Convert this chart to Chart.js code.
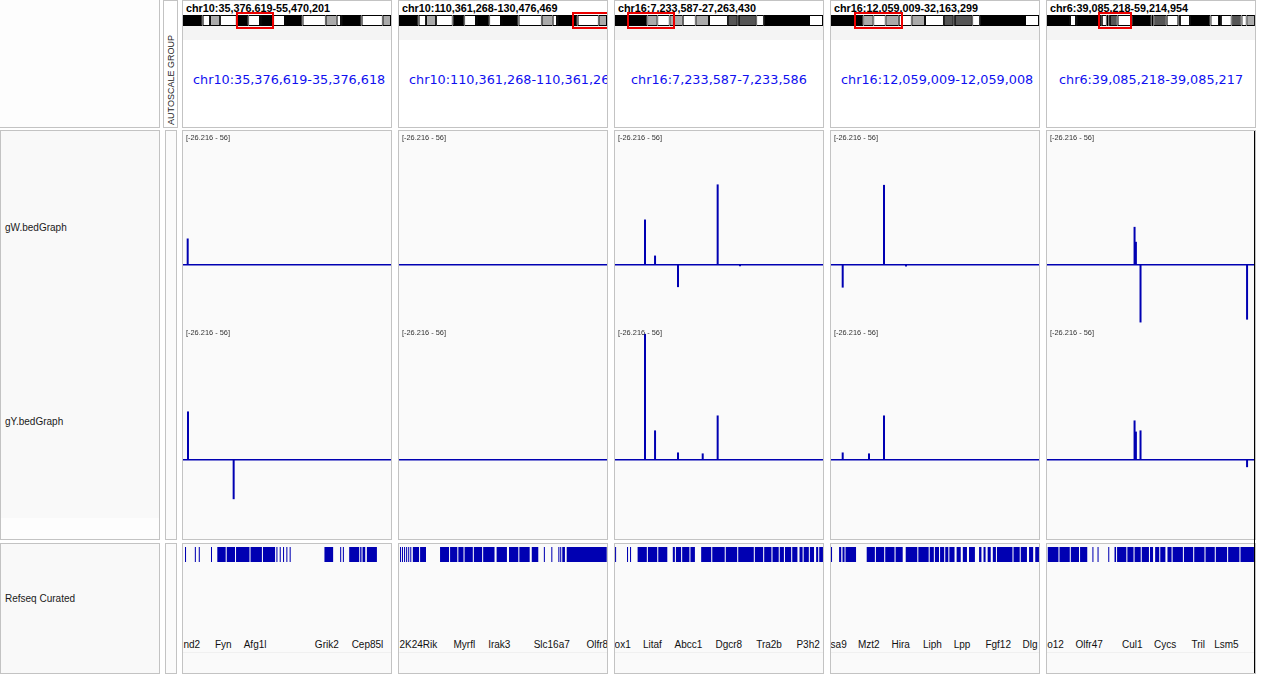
<!DOCTYPE html>
<html><head><meta charset="utf-8">
<script src="https://cdn.jsdelivr.net/npm/chart.js@4.4.1/dist/chart.umd.min.js"></script>
<style>
html,body{margin:0;padding:0;background:#fff;}
#root{position:relative;width:1274px;height:674px;overflow:hidden;font-family:"Liberation Sans",Arial,sans-serif;}
</style></head><body><div id="root"></div>
<script>
// ---------------- DATA ----------------
const panelTitles = ['chr10:35,376,619-55,470,201','chr10:110,361,268-130,476,469','chr16:7,233,587-27,263,430','chr16:12,059,009-32,163,299','chr6:39,085,218-59,214,954'];
const panelLocusLabels = ['chr10:35,376,619-35,376,618','chr10:110,361,268-110,361,267','chr16:7,233,587-7,233,586','chr16:12,059,009-12,059,008','chr6:39,085,218-39,085,217'];
const panelChrom = ['chr10','chr10','chr16','chr16','chr6'];
const panelStart = [35.376619, 110.361268, 7.233587, 12.059009, 39.085218]; // Mb
const panelEnd = [55.470201, 130.476469, 27.263430, 32.163299, 59.214954];   // Mb
const trackNames = ['gW.bedGraph','gY.bedGraph','Refseq Curated'];
const dataRange = [-26.216, 56];
const dataRangeLabel = '[-26.216 - 56]';

// gW.bedGraph values (positions in Mb)
const gWPos = [[35.83],[],[10.12,11.09,13.30,17.12,19.27],[13.19,17.18,19.31],[47.60,47.73,48.18,58.54]];
const gWVal = [[11.1],[],[19.1,3.9,-9.4,33.9,-0.6],[-9.6,33.7,-0.7],[16.0,9.7,-24.3,-23.1]];
// gY.bedGraph values
const gYPos = [[35.86,40.27],[],[10.12,11.09,13.30,15.68,17.12],[13.19,15.73,17.18],[47.60,47.73,48.18,58.54]];
const gYVal = [[20.4,-16.6],[],[53.1,12.4,3.1,2.7,18.7],[3.1,2.7,18.7],[16.6,11.9,12.4,-3.1]];

// chromosome ideograms [start Mb, end Mb, stain]
const chromLength = {chr10:130.694993, chr16:98.207768, chr6:149.736546};
const chr10Bands = [[0,12.4,'b'],[12.4,17.0,'w'],[17.0,23.3,'g'],[23.3,33.7,'w'],[33.7,41.0,'b'],[41.0,48.4,'w'],[48.4,56.7,'b'],[56.7,64.1,'w'],[64.1,75.2,'b'],[75.2,89.7,'w'],[89.7,96.6,'g'],[96.6,99.3,'w'],[99.3,112.3,'b'],[112.3,125.5,'w'],[125.5,130.7,'g']];
const chr16Bands = [[0,15.3,'b'],[15.3,20.0,'g'],[20.0,25.8,'w'],[25.8,32.0,'g'],[32.0,38.1,'w'],[38.1,44.4,'g'],[44.4,53.3,'w'],[53.3,57.7,'d'],[57.7,58.5,'w'],[58.5,66.7,'d'],[66.7,70.3,'w'],[70.3,91.6,'b'],[91.6,98.2,'w']];
const chr6Bands = [[0,16.6,'b'],[16.6,20.9,'w'],[20.9,39.5,'b'],[39.5,43.0,'w'],[43.0,44.4,'d'],[44.4,45.3,'w'],[45.3,50.9,'d'],[50.9,61.0,'w'],[61.0,75.4,'b'],[75.4,76.5,'w'],[76.5,86.2,'d'],[86.2,94.5,'w'],[94.5,95.7,'b'],[95.7,102.9,'w'],[102.9,117.8,'b'],[117.8,123.8,'w'],[123.8,125.2,'b'],[125.2,132.9,'w'],[132.9,140.1,'d'],[140.1,143.7,'w'],[143.7,149.7,'g']];
const bandsByChrom = {chr10:chr10Bands, chr16:chr16Bands, chr6:chr6Bands};

// Refseq Curated gene features [start Mb, end Mb]
const genes1 = [[35.57,35.66],[36.52,36.60],[36.90,37.00],[38.08,38.17],[38.69,39.5],[39.6,40.4],[40.5,41.8],[41.9,43.0],[43.1,44.27],[44.40,44.48],[44.72,44.80],[45.04,45.12],[45.36,45.44],[45.68,45.76],[49.04,49.88],[50.56,50.66],[50.82,50.92],[51.43,52.40],[52.49,52.62],[52.72,52.98],[53.14,54.11]];
const genes2 = [[110.46,110.55],[110.65,110.75],[110.85,110.95],[111.05,111.15],[111.25,111.35],[111.45,111.55],[111.7,112.3],[112.4,112.97],[114.33,115.2],[115.3,116.0],[116.1,116.6],[116.7,117.5],[117.6,118.4],[118.5,119.6],[119.8,120.8],[121.0,121.9],[122.0,123.0],[123.2,123.83],[124.37,124.45],[125.09,125.17],[125.77,125.85],[125.95,126.03],[126.15,126.41],[126.58,130.45]];
const genes3 = [[7.24,7.33],[8.39,8.49],[8.68,8.78],[9.41,10.3],[10.4,11.3],[11.4,12.27],[12.80,13.0],[13.1,13.6],[13.7,14.4],[14.5,14.93],[15.53,16.5],[16.6,17.8],[17.9,19.0],[19.1,20.6],[20.7,21.5],[21.6,22.3],[22.4,23.0],[23.1,23.5],[23.6,24.2],[24.3,24.8],[25.0,25.3],[25.4,25.9],[26.0,26.4],[26.6,26.8],[26.9,27.26]];
const genes4 = [[12.06,12.14],[12.84,13.05],[13.17,13.37],[13.46,14.48],[15.51,16.3],[16.4,17.2],[17.3,18.2],[18.3,18.99],[19.28,20.4],[20.5,21.5],[21.6,22.0],[22.1,22.5],[22.6,23.0],[23.1,23.4],[23.5,24.0],[24.2,24.6],[24.8,25.2],[25.4,25.97],[26.37,26.6],[26.8,27.0],[27.2,27.5],[27.7,28.0],[28.1,29.6],[29.7,30.3],[30.4,31.0],[31.2,31.6],[31.8,32.16]];
const genes5 = [[39.16,40.2],[40.3,41.3],[41.4,42.2],[42.3,43.0],[43.5,43.6],[44.0,44.08],[45.04,45.14],[45.65,45.8],[45.9,46.8],[46.9,47.5],[47.6,48.2],[48.3,49.0],[49.1,49.4],[49.6,50.0],[50.1,50.6],[50.8,51.2],[51.3,52.3],[52.4,53.3],[53.4,54.4],[54.5,55.4],[55.5,56.6],[56.7,57.8],[57.9,59.21]];
const genesByPanel = [genes1, genes2, genes3, genes4, genes5];

// gene name labels [name, position Mb]
const geneLabels1 = [['nd2',36.22],['Fyn',39.27],['Afg1l',42.34],['Grik2',49.27],['Cep85l',53.20]];
const geneLabels2 = [['2K24Rik',112.23],['Myrfl',116.68],['Irak3',120.06],['Slc16a7',125.13],['Olfr80',129.8]];
const geneLabels3 = [['ox1',7.97],['Litaf',10.83],['Abcc1',14.31],['Dgcr8',18.19],['Tra2b',22.07],['P3h2',25.83]];
const geneLabels4 = [['sa9',12.80],['Mzt2',15.71],['Hira',18.79],['Liph',21.86],['Lpp',24.73],['Fgf12',28.22],['Dlg',31.30]];
const geneLabels5 = [['o12',39.91],['Olfr47',43.19],['Cul1',47.38],['Cycs',50.58],['Tril',53.79],['Lsm5',56.53]];
const geneLabelsByPanel = [geneLabels1, geneLabels2, geneLabels3, geneLabels4, geneLabels5];

// ---------------- STYLE / LAYOUT ----------------
const BLUE = 'rgb(0,0,178)';
const STAIN = {b:'#000000', w:'#ffffff', g:'#aaaaaa', d:'#555555'};
const PANEL_X = [182,398,614,830,1046];
const PANEL_W = 210;
const BORDER = '#c3c3c3';
const root = document.getElementById('root');

function el(tag, style, parent){ const e=document.createElement(tag); Object.assign(e.style, style); (parent||root).appendChild(e); return e; }
function box(x,y,w,h,bg,parent){ return el('div',{position:'absolute',left:x+'px',top:y+'px',width:w+'px',height:h+'px',boxSizing:'border-box',border:'1px solid '+BORDER,background:bg||'transparent'},parent); }
function clip(x,y,w,h){ return el('div',{position:'absolute',left:x+'px',top:y+'px',width:w+'px',height:h+'px',overflow:'hidden'}); }
function text(str,x,cy,font,color,parent,center){
  const d=el('div',{font:font,position:'absolute',left:x+'px',top:(cy-10)+'px',height:'20px',lineHeight:'20px',color:color,whiteSpace:'nowrap'},parent);
  if(center) d.style.transform='translateX(-50%)';
  d.textContent=str; return d;
}
function canvas(x,y,w,h){ const c=document.createElement('canvas'); c.width=w; c.height=h; c.style.cssText='position:absolute;left:'+x+'px;top:'+y+'px;width:'+w+'px;height:'+h+'px;'; root.appendChild(c); return c; }
const baseOpts = {responsive:false, animation:false, events:[], layout:{padding:0}, plugins:{legend:{display:false}, tooltip:{enabled:false}}};

// red "current view" box on the ideogram, placed through the chart's x scale
const viewBoxPlugin = {
  id:'viewBox',
  afterDatasetsDraw(chart, args, opts){
    const xs = chart.scales.x, ctx = chart.ctx;
    const x1 = xs.getPixelForValue(opts.from), x2 = xs.getPixelForValue(opts.to);
    ctx.save();
    ctx.strokeStyle = 'rgb(236,0,0)'; ctx.lineWidth = 2;
    ctx.strokeRect(Math.round(x1)-2, 2, Math.round(x2-x1)+4, chart.height-4);
    ctx.restore();
  }
};

// ---- left name panel
el('div',{position:'absolute',left:'0px',top:'0px',width:'160px',height:'128px',boxSizing:'border-box',borderRight:'1px solid '+BORDER,borderBottom:'1px solid '+BORDER,background:'#fdfdfd'});
box(0,130,160,410,'#f9f9f9');
el('div',{position:'absolute',left:'1px',top:'518px',width:'158px',height:'21px',background:'#fdfdfd'});
box(0,543,160,131,'#f9f9f9');
const NAME_FONT='10px "Liberation Sans",Arial,sans-serif';
text(trackNames[0],5,227.5,NAME_FONT,'#1a1a1a');
text(trackNames[1],5,421.5,NAME_FONT,'#1a1a1a');
text(trackNames[2],5,598.5,NAME_FONT,'#1a1a1a');

// ---- attribute column
box(163,0,15,128,'#ffffff');
box(165,130,12,410,'#fbfbfb');
box(165,543,12,131,'#fbfbfb');
const ag = el('div',{font:'9px "Liberation Sans",Arial,sans-serif',position:'absolute',left:(171-50)+'px',top:(80-6)+'px',width:'100px',height:'12px',lineHeight:'12px',textAlign:'center',color:'#222',transform:'rotate(-90deg)',whiteSpace:'nowrap'});
ag.textContent='AUTOSCALE GROUP';

// ---- panels
for(let p=0;p<5;p++){
  const px = PANEL_X[p];
  const start = panelStart[p], end = panelEnd[p];
  const plotW = p===4 ? 207 : 208;
  // header box
  box(px,0,PANEL_W,128,'#ffffff');
  el('div',{position:'absolute',left:(px+1)+'px',top:'26px',width:(PANEL_W-2)+'px',height:'14px',background:'#f4f4f4'});
  const hc = clip(px+1,1,PANEL_W-2,126);
  text(panelTitles[p],3,6.5,'bold 10.8px "Liberation Sans",Arial,sans-serif','#000',hc);
  const loc = text(panelLocusLabels[p],0,78.5,'12.8px "DejaVu Sans",Verdana,sans-serif','#1010f0',hc);
  const tw = loc.offsetWidth;
  loc.style.left = Math.max(10,((PANEL_W-2)-tw)/2)+'px';

  // ideogram
  const chrom = panelChrom[p];
  const bands = bandsByChrom[chrom];
  const ic = canvas(px+1,11,208,19);
  new Chart(ic,{type:'bar',
    data:{datasets:[
      {data:bands.map(b=>({x:[b[0],b[1]],y:0})), backgroundColor:bands.map(b=>STAIN[b[2]]), borderColor:'#000', borderWidth:1, borderSkipped:false, barThickness:11, inflateAmount:0, grouped:false}
    ]},
    options:Object.assign({},baseOpts,{indexAxis:'y',
      plugins:{legend:{display:false},tooltip:{enabled:false},viewBox:{from:start,to:end}},
      scales:{
      x:{type:'linear',min:0,max:chromLength[chrom],display:false,offset:false},
      y:{type:'linear',min:-0.5,max:0.5,display:false,offset:false}}}),
    plugins:[viewBoxPlugin]
  });

  // data panel box
  box(px,130,PANEL_W,410,'#fafafa');
  // gene panel box
  box(px,543,PANEL_W,131,'#fafafa');
  el('div',{position:'absolute',left:(px+1)+'px',top:'652px',width:(PANEL_W-2)+'px',height:'1px',background:'#f0f0f0'});

  // bedGraph tracks
  const tracks = [[gWPos[p],gWVal[p],132],[gYPos[p],gYVal[p],327]];
  tracks.forEach(([pos,vals,ty])=>{
    const c = canvas(px+1,ty,plotW,195);
    new Chart(c,{type:'bar',
      data:{datasets:[
        {type:'bar', data:pos.map((x,i)=>({x:x,y:vals[i]})), backgroundColor:BLUE, barThickness:2, inflateAmount:0, grouped:false},
        {type:'line', data:[{x:start,y:0},{x:end,y:0}], borderColor:BLUE, borderWidth:1.5, pointRadius:0, fill:false}
      ]},
      options:Object.assign({},baseOpts,{scales:{
        x:{type:'linear',min:start,max:end,display:false,offset:false},
        y:{type:'linear',min:dataRange[0],max:dataRange[1],display:false}}})
    });
    text(dataRangeLabel,px+4,ty+5.5,'7.4px "Liberation Sans",Arial,sans-serif','#333');
  });

  // gene track
  const genes = genesByPanel[p];
  const gc = canvas(px+1,547,plotW,15);
  const gchart = new Chart(gc,{type:'bar',
    data:{datasets:[{data:genes.map(g=>({x:[g[0],Math.max(g[1],g[0]+0.1)],y:0})), backgroundColor:BLUE, borderWidth:0, barThickness:15, inflateAmount:0, grouped:false}]},
    options:Object.assign({},baseOpts,{indexAxis:'y',scales:{
      x:{type:'linear',min:start,max:end,display:false,offset:false},
      y:{type:'linear',min:-0.5,max:0.5,display:false,offset:false}}})
  });
  const lc = clip(px+1,630,plotW,22);
  geneLabelsByPanel[p].forEach(([name,pos])=>{
    text(name,gchart.scales.x.getPixelForValue(pos),15,'10px "Liberation Sans",Arial,sans-serif','#111',lc,true);
  });
}
// dark right edge line of last panel
el('div',{position:'absolute',left:'1254px',top:'131px',width:'1px',height:'542px',background:'#000'});
</script></body></html>
